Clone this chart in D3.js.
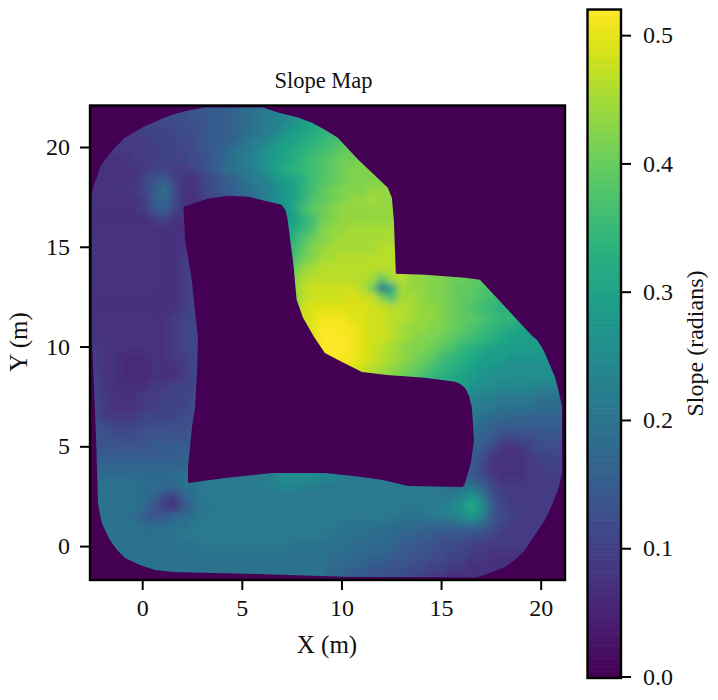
<!DOCTYPE html>
<html>
<head>
<meta charset="utf-8">
<script src="https://cdn.jsdelivr.net/npm/d3@7"></script>
<style>
html,body{margin:0;padding:0;background:#fff}
svg{display:block}
text{font-family:"Liberation Serif","Times New Roman",serif;fill:#111}
</style>
</head>
<body>
<div id="chart"></div>
<script>
const xTicks=[0,5,10,15,20];
const yTicks=[0,5,10,15,20];
const cbTicks=[0,0.1,0.2,0.3,0.4,0.5];
const xDomain=[-2.62,21.22];
const yDomain=[-1.7,22.08];
const slopeMax=0.52;
const slopeStep=0.015; // one base-36 digit in slopeRows = this many radians
const titleText="Slope Map";
const xLabel="X (m)";
const yLabel="Y (m)";
const cbLabel="Slope (radians)";

// Slope, top row first, base-36 digit per cell
const slopeRows=[
"66677788 8899aabc defghjkm noooooop pppppppp pppppppp",
"66667778 8899aabc defghjlm nopppppp pppppppp pppppppp",
"66666777 7889aabc defhjklm noppqqqq qqqqqqqq qqqqqqqq",
"66666677 7889aabd efhjklmn opqqrrrr rrrrrrrr rrrrrrrr",
"55666667 7789abde fhjklmno pqrrrrss ssssssss ssssssss",
"55556667 7788abde fhjklnop qrrsssss ssssssss ssssssss",
"55555677 6678acde fhjlmnop qrssssss ssssssss ssssssss",
"5555579a 755789bd efhjkmop qrssssss ssssssss ssssssss",
"555567ad 85578abc dfgikmoq rssstttt tttttttt tttttttt",
"555556ac 8556789b cegikmpq rsttuttt tttttttt tttttttt",
"5555569b 7656789b cegikoqr sttttttt tttttttt tttttttt",
"55555567 5556789a cegijmor sttttttt tttttttt tttttttt",
"55555555 5555678a cegjlnps ttuuuuuu uuuuuuuu uuuuuuuu",
"55555555 5556678a cegjmprs tuuuuuuu uuuuuuuu uuuuuuuu",
"55555555 5566778a cegjnqst uuuuuvvv uuuuuuuu uuuuuuuu",
"55555555 5677889a cegjorsu uvvvvvvv uuuuuuuu uuuuuuuu",
"55555555 5677889a cegkqtuv vvvvvvvv ttssrrqq pppppppp",
"55555555 5677889a cegksuvv vvvvuquv ttssrrqq ppoooooo",
"55555555 5677889a cegktvww wwwvrdku ttssrqqp ponnnnnn",
"55555555 5677889a cegkrvww wwxwwspu utssrqqp onnnmmmm",
"55555555 5677889a cegkrwxx xxxxwwvv uttsrqpo nmmmmmmm",
"55555555 6778889a cegkrwxy yyxxwwvv uttsrqqp onnmmlll",
"55555555 6778889a cegkrvxz zyyxwwvu ttssrqpo nmlkkkkk",
"55555555 6778889a cegknuxz zzyxwwvu tssrqpon mlkkjjjj",
"65555555 6778889a cegkntwz zzyxwvut ssrqpnml kkjjjjjj",
"65544455 6678889a cegknsvy zyyxwvut srqonmlk jjiiiiii",
"65544455 5677789a cegknsvx yyxwvuts rqonmlkj iihhhhhh",
"75544455 5677889a cegkmquw xxwvutsr qonmlkji hhhhhhhh",
"75555566 7778899a cegkmquw xxwvutsr qonmlkih hggggfff",
"76555667 77888899 ffffffff ffffffff ffffffgf feeeeddd",
"76555667 77888899 ffffffff ffffffff fffffffe eddddccc",
"86666777 78888999 eeeeeeee eeeeeeee eeeeeeed ccbbbbbb",
"88777888 88999aaa eeeeeeee eeeeeeee eeeeeedc baaaaaaa",
"99888999 999aaabb eeeeeeee eeeeeeee eeeeeecb a8788999",
"999999aa aaaabbbb eeeeeeee eeeeeeee eeeeeeba 86567888",
"aaaaaaaa abbbbbcc eeeeeeee eeeeeeee eeeeeea9 65556777",
"bbbbbbbb bbcccddd eeeeeeee eeeeeeee eeeeeea8 55556677",
"cccccccc cdeeeeee effhhhhg gfeeeeee eeeedc98 65556666",
"dddddccc cddeeeee effggffe eeeeeeee eeeedddb 86666666",
"dddddcb8 6bdeeeee eeeeeeee eeeeeeee eeeeefif 97666666",
"dddddc96 59cdeeee eeeeeeee eeeeeeee eeefgili b7666666",
"ddddca9a bcdeeeee eeeeeeee eeeeeeed ddeffgjg a8766666",
"dddddccc ddeeeeee eeeeeeee edddddcc ccbbbccb 97666666",
"dddddddd deeeeeee eeeeeeee ddddcccb baa99988 76666666",
"dddddddd dddeeeee eeeedddd ddccccba a9988776 66666666",
"dddddddd dddddddd dddddddd ccccbbaa 99887766 55555555",
"dddddddd dddddddd dddddddd ccbbaa99 88776655 55555555",
"dddddddd dddddddd dddddddd bbaa9988 77665555 55555555"
];

// Track edges, in metres
const outerEdge=[[3.15,21.98],[6.06,21.98],[6.81,21.73],[7.82,21.48],[8.52,21.22],[9.17,20.87],[9.82,20.47],[10.83,19.37],[12.33,17.96],[12.53,17.46],[12.63,16.36],[12.73,13.65],[14.19,13.6],[16.2,13.45],[16.95,13.35],[19.6,10.5],[19.81,10.34],[20.01,10.04],[20.21,9.68],[20.46,9.08],[20.71,8.48],[20.91,7.73],[21.07,6.97],[21.07,3.66],[20.97,3.21],[20.87,2.81],[20.56,2.06],[20.21,1.3],[19.71,0.55],[19.21,-0.2],[18.71,-0.7],[18.2,-1.05],[17.45,-1.35],[16.8,-1.56],[10.53,-1.55],[5.75,-1.4],[1.55,-1.3],[0.64,-1.2],[-0.11,-0.95],[-0.86,-0.6],[-1.26,-0.2],[-1.62,0.3],[-1.82,0.7],[-2.02,1.15],[-2.12,1.56],[-2.22,2.16],[-2.32,5.57],[-2.52,10.34],[-2.52,17.61],[-2.42,18.11],[-2.27,18.51],[-2.12,18.97],[-1.87,19.37],[-1.36,19.97],[-0.86,20.47],[-0.36,20.77],[0.14,21.04],[0.64,21.27],[1.14,21.48],[1.7,21.68],[2.3,21.83]];
const innerEdge=[[2.07,17.0],[3.28,17.41],[4.3,17.56],[5.31,17.51],[7.0,17.1],[7.2,16.8],[7.3,16.36],[7.6,14.0],[7.75,12.34],[8.07,11.44],[8.65,10.44],[9.17,9.68],[10.03,9.23],[11.03,8.73],[12.28,8.58],[14.19,8.43],[15.7,8.23],[15.95,8.13],[16.2,7.93],[16.4,7.53],[16.55,6.92],[16.65,5.32],[16.5,4.16],[16.2,3.16],[16.1,2.96],[13.34,3.01],[12.08,3.31],[11.03,3.46],[9.17,3.66],[6.51,3.66],[4.15,3.41],[2.3,3.16],[2.3,3.96],[2.5,5.97],[2.65,6.92],[2.75,8.68],[2.8,10.34],[2.5,13.25],[2.15,15.35]];

const width=718,height=700;
const plot={left:90,right:565,top:105.5,bottom:580};
const bar={left:587.5,right:621,top:9.5,bottom:678};

const values=slopeRows.map(r=>r.replace(/ /g,"").split("").map(c=>parseInt(c,36)*slopeStep));
const nRows=values.length,nCols=values[0].length;

const x=d3.scaleLinear().domain(xDomain).range([plot.left,plot.right]);
const y=d3.scaleLinear().domain(yDomain).range([plot.bottom,plot.top]);
const color=d3.scaleSequential(d3.interpolateViridis).domain([0,slopeMax]);
const cb=d3.scaleLinear().domain([0,slopeMax]).range([676.5,bar.top]);
const cellX=d3.scaleLinear().domain([0,nCols]).range(xDomain);
const cellY=d3.scaleLinear().domain([0,nRows]).range([yDomain[1],yDomain[0]]);

const svg=d3.select("#chart").append("svg").attr("width",width).attr("height",height);
const defs=svg.append("defs");
defs.append("clipPath").attr("id","axesClip").append("rect")
  .attr("x",plot.left).attr("y",plot.top).attr("width",plot.right-plot.left).attr("height",plot.bottom-plot.top);
const line=d3.line().x(d=>x(d[0])).y(d=>y(d[1]));
defs.append("clipPath").attr("id","trackClip").append("path")
  .attr("clip-rule","evenodd")
  .attr("d",line(outerEdge)+"Z"+line(innerEdge)+"Z");
defs.append("filter").attr("id","soften")
  .attr("filterUnits","userSpaceOnUse").attr("x",0).attr("y",0).attr("width",width).attr("height",height)
  .append("feGaussianBlur").attr("stdDeviation",3.6);

const plotG=svg.append("g").attr("clip-path","url(#axesClip)");
plotG.append("rect").attr("x",plot.left).attr("y",plot.top)
  .attr("width",plot.right-plot.left).attr("height",plot.bottom-plot.top)
  .attr("fill",color(0));

const cells=[];
values.forEach((row,r)=>row.forEach((v,c)=>cells.push({r,c,v})));
plotG.append("g").attr("clip-path","url(#trackClip)")
  .append("g").attr("filter","url(#soften)")
  .selectAll("rect").data(cells).join("rect")
  .attr("x",d=>x(cellX(d.c))-(d.c===0?30:0))
  .attr("y",d=>y(cellY(d.r))-(d.r===0?30:0))
  .attr("width",d=>x(cellX(d.c+1))-x(cellX(d.c))+0.6+((d.c===0||d.c===nCols-1)?30:0))
  .attr("height",d=>y(cellY(d.r+1))-y(cellY(d.r))+0.6+((d.r===0||d.r===nRows-1)?30:0))
  .attr("fill",d=>color(d.v));

function styleAxis(g){
  g.selectAll(".domain").remove();
  g.selectAll(".tick line").attr("stroke","#000").attr("stroke-width",2);
  g.selectAll(".tick text").attr("font-size",24).attr("fill","#111");
}
svg.append("g").attr("transform",`translate(0,${plot.bottom})`)
  .call(d3.axisBottom(x).tickValues(xTicks).tickSize(10).tickPadding(9).tickFormat(d3.format("d"))).call(styleAxis);
svg.append("g").attr("transform",`translate(${plot.left},0)`)
  .call(d3.axisLeft(y).tickValues(yTicks).tickSize(10).tickPadding(10).tickFormat(d3.format("d"))).call(styleAxis);
svg.append("rect").attr("x",plot.left).attr("y",plot.top)
  .attr("width",plot.right-plot.left).attr("height",plot.bottom-plot.top)
  .attr("fill","none").attr("stroke","#000").attr("stroke-width",2.4);

svg.append("text").attr("x",323.5).attr("y",88).attr("text-anchor","middle").attr("font-size",22.5).text(titleText);
svg.append("text").attr("x",327).attr("y",653).attr("text-anchor","middle").attr("font-size",25).text(xLabel);
svg.append("text").attr("transform","translate(27,342) rotate(-90)").attr("text-anchor","middle").attr("font-size",25).text(yLabel);

// colour bar
const barSteps=d3.range(0,slopeMax,slopeMax/256);
svg.append("g").selectAll("rect").data(barSteps).join("rect")
  .attr("x",bar.left).attr("width",bar.right-bar.left)
  .attr("y",d=>cb(d+slopeMax/256)).attr("height",d=>cb(d)-cb(d+slopeMax/256)+0.6)
  .attr("fill",d=>color(d));
svg.append("rect").attr("x",bar.left).attr("y",bar.top)
  .attr("width",bar.right-bar.left).attr("height",bar.bottom-bar.top)
  .attr("fill","none").attr("stroke","#000").attr("stroke-width",2.4);
svg.append("g").attr("transform",`translate(${bar.right},0)`)
  .call(d3.axisRight(cb).tickValues(cbTicks).tickSize(10).tickPadding(12).tickFormat(d3.format(".1f"))).call(styleAxis);
svg.append("text").attr("transform","translate(703,343.5) rotate(-90)").attr("text-anchor","middle").attr("font-size",24).text(cbLabel);
</script>
</body>
</html>
